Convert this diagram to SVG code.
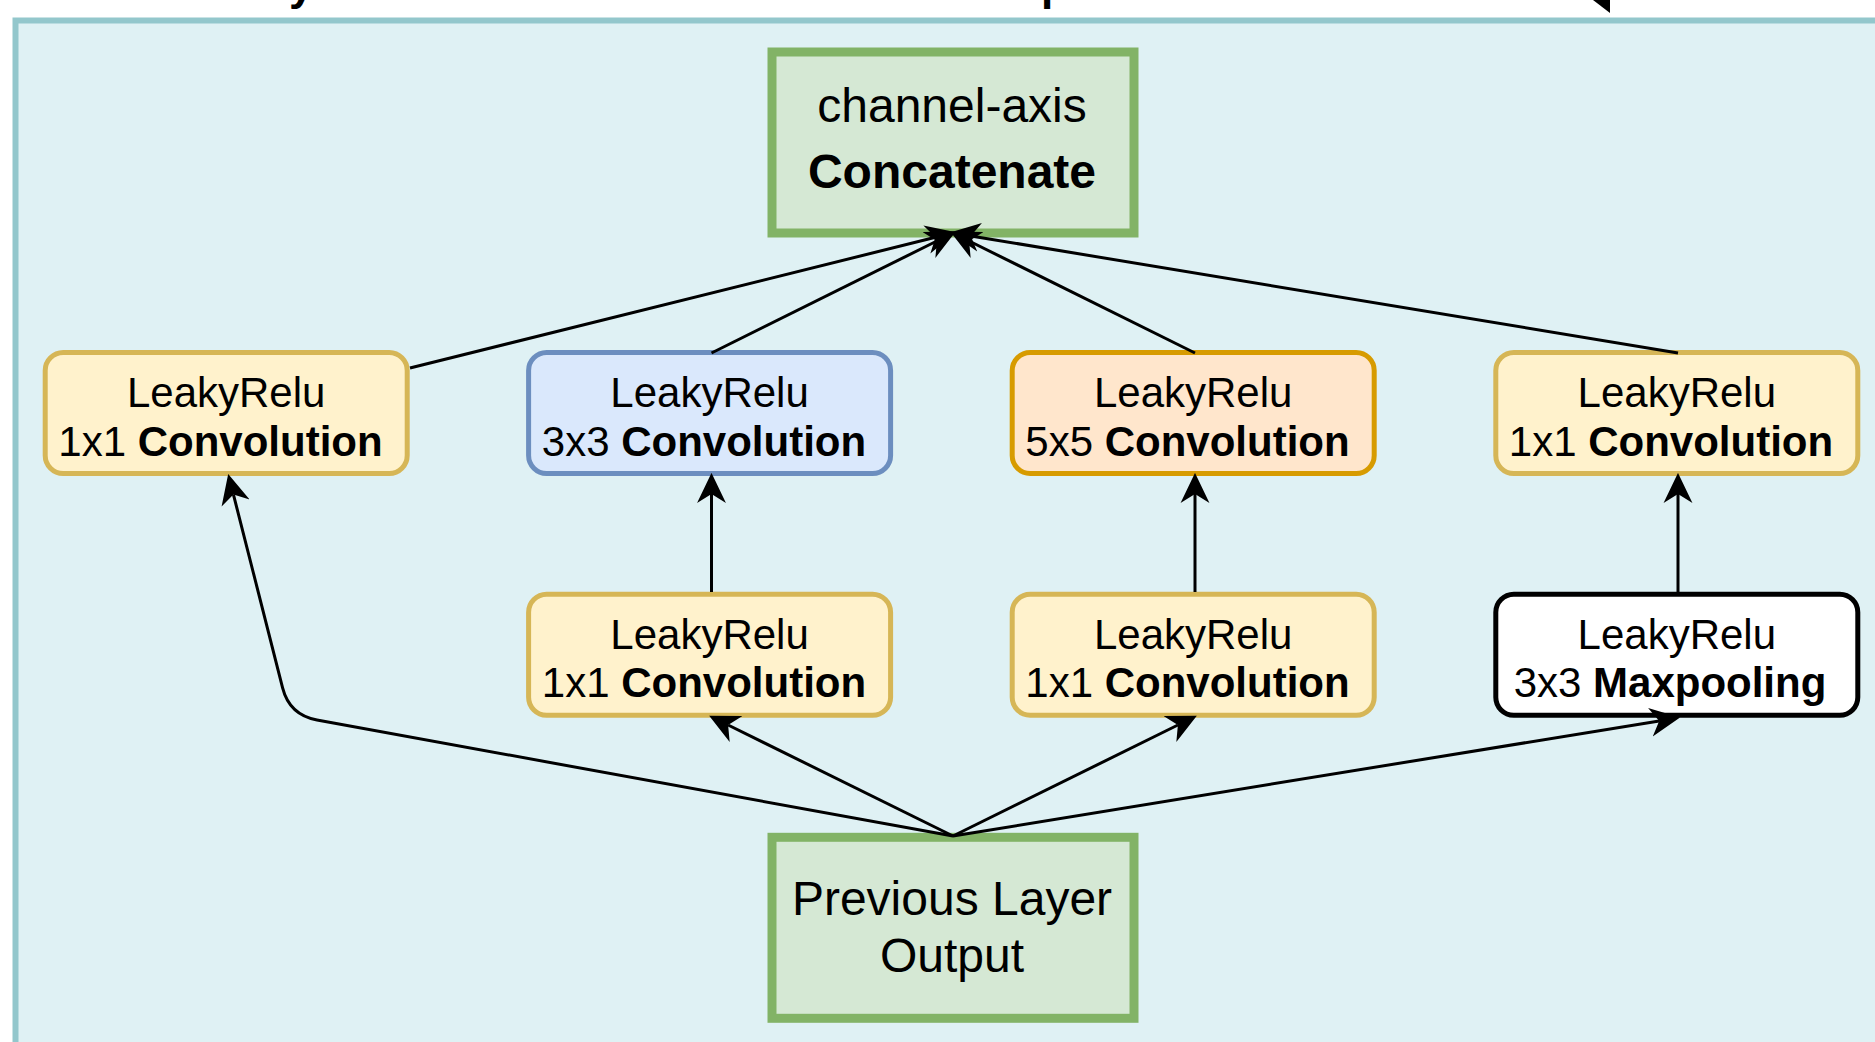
<svg xmlns="http://www.w3.org/2000/svg" width="1875" height="1042" viewBox="0 0 1875 1042">
  <style>
    text { font-family: "Liberation Sans", Arial, Helvetica, sans-serif; fill: #000000; }
    .t42 { font-size: 42px; text-anchor: middle; }
    .t48 { font-size: 48px; text-anchor: middle; }
    .b { font-weight: bold; }
    .box { stroke-width: 5; }
    .yellow { fill: #fff2cc; stroke: #d6b656; }
    .blue { fill: #dae8fc; stroke: #6c8ebf; }
    .orange { fill: #ffe6cc; stroke: #d79b00; }
    .white { fill: #ffffff; stroke: #000000; }
    .green { fill: #d5e8d4; stroke: #82b366; stroke-width: 9; }
    .edge { fill: none; stroke: #000000; stroke-width: 3; marker-end: url(#arrow); }
  </style>
  <defs>
    <marker id="arrow" markerUnits="userSpaceOnUse" markerWidth="30" markerHeight="30" viewBox="0 0 27 26" refX="8" refY="13" orient="auto">
      <path d="M 27 13 L 0 0 L 8 13 L 0 26 Z" fill="#000000"/>
    </marker>
  </defs>

  <rect width="1875" height="1042" fill="#ffffff"/>

  <!-- cut-off title fragments -->
  <text x="289" y="0" font-size="44" class="b">y</text>
  <text x="1041" y="0" font-size="44" class="b">p</text>
  <polygon points="1593,0 1610,0 1610,13" fill="#000000"/>

  <!-- container -->
  <rect id="container" x="15.5" y="20.5" width="1880" height="1040" fill="#dff1f4" stroke="#93c7cc" stroke-width="6"/>

  <g id="concatenate">
    <rect class="green" x="772" y="52" width="362" height="181"/>
    <text class="t48" x="952" y="122">channel-axis</text>
    <text class="t48 b" x="952" y="188">Concatenate</text>
  </g>

  <g id="conv1x1-a">
    <rect class="box yellow" x="45.2" y="352.5" width="362" height="121" rx="18"/>
    <text class="t42" x="226.2" y="407">LeakyRelu</text>
    <text class="t42" x="220.5" y="455.5">1x1 <tspan class="b">Convolution</tspan></text>
  </g>

  <g id="conv3x3">
    <rect class="box blue" x="528.6" y="352.5" width="362" height="121" rx="18"/>
    <text class="t42" x="709.6" y="407">LeakyRelu</text>
    <text class="t42" x="704" y="455.5">3x3 <tspan class="b">Convolution</tspan></text>
  </g>

  <g id="conv5x5">
    <rect class="box orange" x="1012.2" y="352.5" width="362" height="121" rx="18"/>
    <text class="t42" x="1193.2" y="407">LeakyRelu</text>
    <text class="t42" x="1187.5" y="455.5">5x5 <tspan class="b">Convolution</tspan></text>
  </g>

  <g id="conv1x1-d">
    <rect class="box yellow" x="1495.8" y="352.5" width="362" height="121" rx="18"/>
    <text class="t42" x="1676.8" y="407">LeakyRelu</text>
    <text class="t42" x="1671" y="455.5">1x1 <tspan class="b">Convolution</tspan></text>
  </g>

  <g id="conv1x1-b">
    <rect class="box yellow" x="528.6" y="594.2" width="362" height="121" rx="18"/>
    <text class="t42" x="709.6" y="648.7">LeakyRelu</text>
    <text class="t42" x="704" y="697">1x1 <tspan class="b">Convolution</tspan></text>
  </g>

  <g id="conv1x1-c">
    <rect class="box yellow" x="1012.2" y="594.2" width="362" height="121" rx="18"/>
    <text class="t42" x="1193.2" y="648.7">LeakyRelu</text>
    <text class="t42" x="1187.5" y="697">1x1 <tspan class="b">Convolution</tspan></text>
  </g>

  <g id="maxpool">
    <rect class="box white" x="1495.8" y="594.2" width="362" height="121" rx="18"/>
    <text class="t42" x="1676.8" y="648.7">LeakyRelu</text>
    <text class="t42" x="1670" y="697">3x3 <tspan class="b">Maxpooling</tspan></text>
  </g>

  <g id="previous">
    <rect class="green" x="772" y="837.3" width="362" height="181"/>
    <text class="t48" x="952" y="915">Previous Layer</text>
    <text class="t48" x="952" y="971.5">Output</text>
  </g>

  <g id="connectors">
    <path class="edge" d="M 953 836 L 317 720 Q 289.5 715 282.6 687.9 L 233.4 494.4"/>
    <path class="edge" d="M 953 836 L 728.1 725"/>
    <path class="edge" d="M 953 836 L 1177.9 725"/>
    <path class="edge" d="M 953 836 L 1659.2 720.9"/>
    <path class="edge" d="M 711.5 592 L 711.5 494"/>
    <path class="edge" d="M 1195 592 L 1195 494"/>
    <path class="edge" d="M 1678 592 L 1678 494"/>
    <path class="edge" d="M 410 368 L 935.5 237.3"/>
    <path class="edge" d="M 711.5 353 L 936.9 241"/>
    <path class="edge" d="M 1195 353 L 969.1 241"/>
    <path class="edge" d="M 1678 353 L 970.8 235.9"/>
  </g>
</svg>
